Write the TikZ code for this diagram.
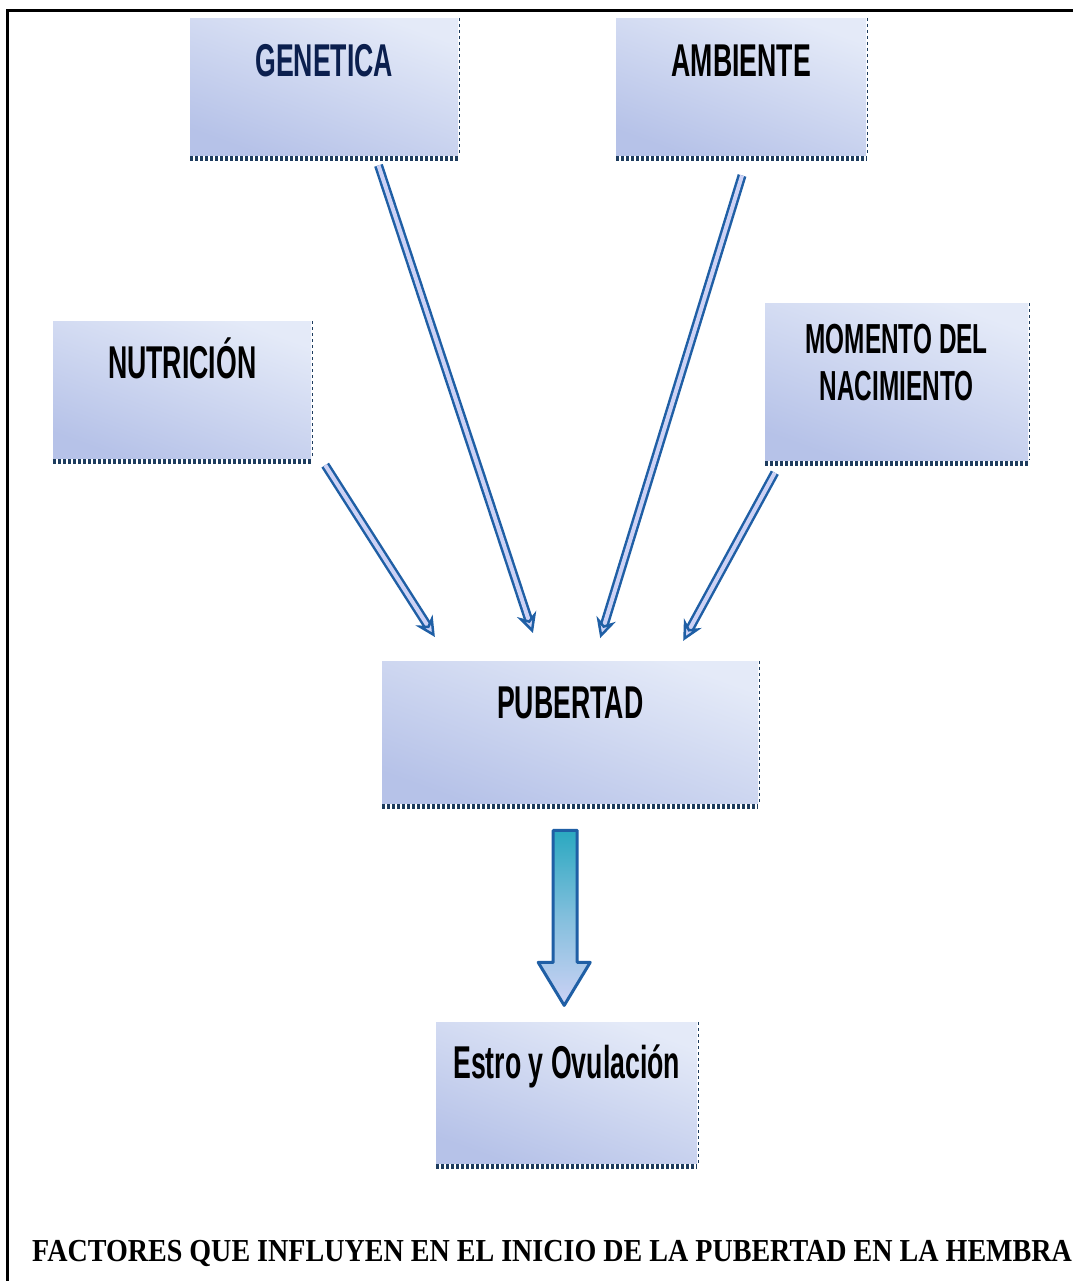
\documentclass[tikz,border=0pt]{standalone}
\usepackage{fontspec}
\usepackage{graphicx}
\newfontfamily\boxfont{Liberation Sans}
\newfontfamily\titlefont{Liberation Serif}
\usetikzlibrary{arrows.meta, positioning, calc}

\definecolor{boxtop}{HTML}{E4EAF8}
\definecolor{boxbot}{HTML}{B6C2E8}
\definecolor{dotcol}{HTML}{1D3C5E}
\definecolor{arrowblue}{HTML}{1F5FA5}
\definecolor{arrowlav}{HTML}{CDD2F5}
\definecolor{arrowteal}{HTML}{2AA8C0}
\definecolor{gentext}{HTML}{0B1F4E}

\newcommand{\narrow}[1]{\scalebox{0.58}[1]{#1}}

\tikzset{
  factor/.style={anchor=north west, inner sep=0pt, top color=boxtop, bottom color=boxbot,
    shading angle=-20, font=\boxfont\bfseries\fontsize{46}{47}\selectfont},
  bottomdots/.style={draw=dotcol, line width=5pt, dash pattern=on 3pt off 2pt},
  sidedots/.style={draw=dotcol, line width=1.5pt, dash pattern=on 3pt off 3pt},
  slim/.style={draw=arrowblue, line width=2.5pt, double=arrowlav, double distance=4pt,
    -{Stealth[length=20pt, width=20pt, fill=arrowlav]}},
  bigarrow/.style={draw=arrowblue, line width=3pt, line join=round,
    top color=arrowteal, bottom color=arrowlav, middle color=arrowteal!45!arrowlav},
}

\begin{document}
\begin{tikzpicture}[x=1pt, y=-1pt]
    \useasboundingbox (0,0) rectangle (1073,1281);
    \fill[white] (0,0) rectangle (1073,1281);
    \draw[line width=3pt] (7,1281) -- (7,11) -- (1073,11);

    % factores
    \node[factor, minimum width=268pt, text height=58pt, text depth=79pt] (gen) at (190,18) {\color{gentext}\narrow{GENETICA}};
    \node[factor, minimum width=250pt, text height=58pt, text depth=79pt] (amb) at (616,18) {\narrow{AMBIENTE}};
    \node[factor, minimum width=258pt, text height=57pt, text depth=80pt] (nut) at (53,321) {\narrow{NUTRICIÓN}};
    \node[factor, minimum width=263pt, text height=97pt, text depth=60pt, align=center,
          font=\boxfont\bfseries\fontsize{42}{47}\selectfont] (mom) at (765,303) {\narrow{MOMENTO DEL}\\\narrow{NACIMIENTO}};
    \node[factor, minimum width=376pt, text height=57pt, text depth=85pt] (pub) at (382,661) {\narrow{PUBERTAD}};
    \node[factor, minimum width=261pt, text height=56pt, text depth=85pt] (est) at (436,1022) {\narrow{Estro y Ovulación}};

    \foreach \n in {gen, amb, nut, mom, pub, est} {
        \draw[bottomdots] ([yshift=-3pt]\n.south west) -- ([yshift=-3pt]\n.south east);
        \draw[sidedots] ([xshift=1pt]\n.north east) -- ([xshift=1pt]\n.south east);
    }

    % flechas
    \draw[slim, shorten <=8pt, shorten >=28.5pt] ([xshift=9.5pt]nut.south east) -- ([xshift=-120pt]pub.north);
    \draw[slim, shorten <=10.5pt, shorten >=29.5pt] ([xshift=51pt]gen.south) -- ([xshift=-28pt]pub.north);
    \draw[slim, shorten <=21pt, shorten >=24pt] ([xshift=7pt]amb.south) -- ([xshift=23pt]pub.north);
    \draw[slim, shorten <=14pt, shorten >=23pt] ([xshift=16.5pt]mom.south west) -- ([xshift=102pt]pub.north);

    \begin{scope}[shift={(pub.south)}]
        \draw[bigarrow] (-17,27) -- (7,27) -- (7,159) -- (20,159) -- (-6,202) -- (-32,159) -- (-17,159) -- cycle;
    \end{scope}

    \node[anchor=base west, inner sep=0pt] (title) at (32,1261)
        {\titlefont\bfseries\fontsize{32}{34}\selectfont\scalebox{0.877}[1]{FACTORES QUE INFLUYEN EN EL INICIO DE LA PUBERTAD EN LA HEMBRA}};
\end{tikzpicture}
\end{document}
